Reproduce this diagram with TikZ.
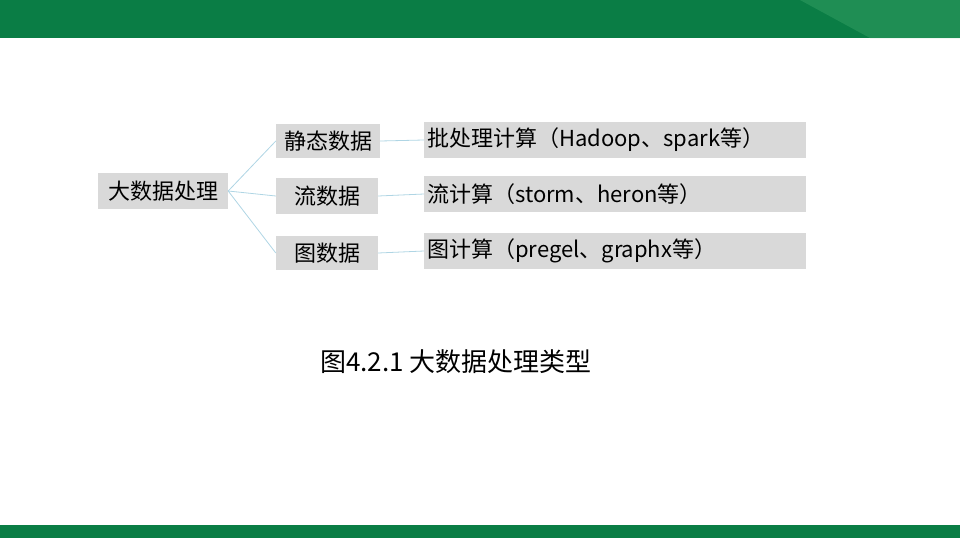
\documentclass[tikz,border=0pt]{standalone}
\usepackage{fontspec}
\setmainfont{Noto Sans CJK SC}
\definecolor{band}{HTML}{0A7D45}
\definecolor{bandlight}{HTML}{2E9A5E}
\begin{document}
\begin{tikzpicture}[x=1pt,y=-1pt,
  box/.style={fill=black!15,inner sep=0pt,font=\fontsize{22}{26}\selectfont},
  link/.style={draw=cyan!40!teal!35,line width=0.8pt}]
\useasboundingbox (0,0) rectangle (960,538);
\fill[band] (0,0) rectangle (960,38);
\fill[bandlight,opacity=0.6] (800,0) -- (960,0) -- (960,38) -- (870,38) -- cycle;
\fill[band] (0,525) rectangle (960,538);
\node[box,minimum width=130pt,minimum height=36pt] (root) at (163,191) {大数据处理};
\node[box,minimum width=104pt,minimum height=34pt] (a) at (328,141) {静态数据};
\node[box,minimum width=102pt,minimum height=36pt] (b) at (327,196) {流数据};
\node[box,minimum width=102pt,minimum height=34pt] (c) at (327,253) {图数据};
\node[box,minimum width=382pt,minimum height=36pt,anchor=west,text width=376pt,align=left] (a1) at (424,140) {批处理计算（Hadoop、spark等）};
\node[box,minimum width=382pt,minimum height=36pt,anchor=west,text width=376pt,align=left] (b1) at (424,194) {流计算（storm、heron等）};
\node[box,minimum width=382pt,minimum height=36pt,anchor=west,text width=376pt,align=left] (c1) at (424,251) {图计算（pregel、graphx等）};
\draw[link] (root.east) -- (a.west);
\draw[link] (root.east) -- (b.west);
\draw[link] (root.east) -- (c.west);
\draw[link] (a.east) -- (a1.west);
\draw[link] (b.east) -- (b1.west);
\draw[link] (c.east) -- (c1.west);
\node[font=\fontsize{26}{30}\selectfont] (cap) at (456,362) {图4.2.1 大数据处理类型};
\end{tikzpicture}
\end{document}
